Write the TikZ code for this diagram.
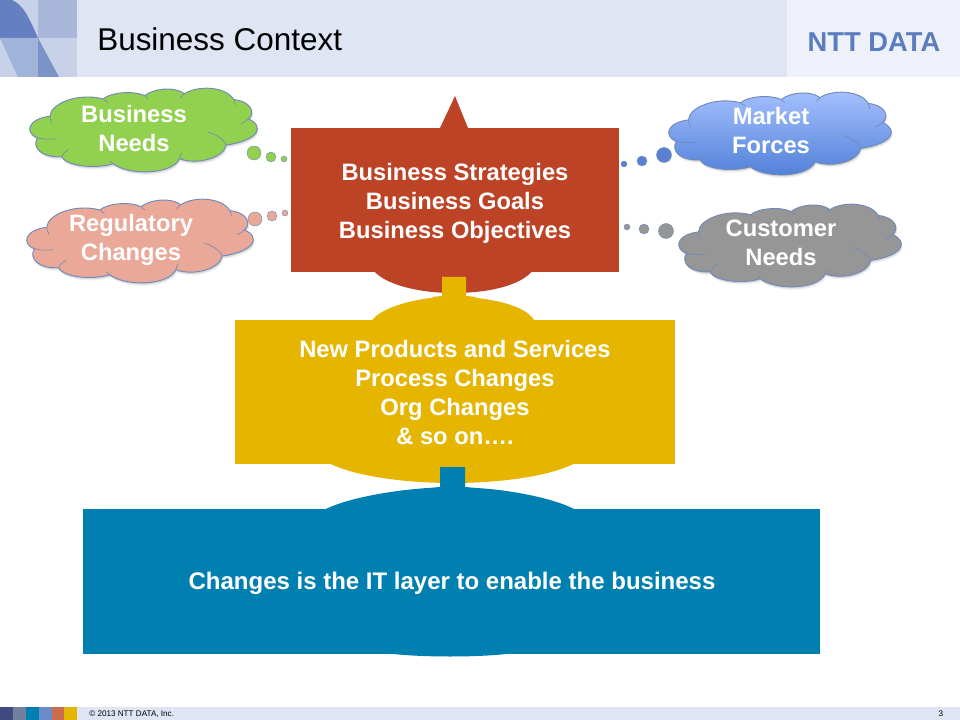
\documentclass[tikz,border=0pt]{standalone}
\usepackage{fontspec}
\setmainfont{Liberation Sans}
\definecolor{hdr}{HTML}{DFE5F2}
\definecolor{hdrlight}{HTML}{EEF1FA}
\definecolor{redbox}{HTML}{BC4325}
\definecolor{yelbox}{HTML}{E5B500}
\definecolor{blubox}{HTML}{007FB1}
\definecolor{cloudline}{HTML}{7089B8}
\definecolor{logoblue}{HTML}{5B7DBE}
\definecolor{decoA}{HTML}{C7D2E9}
\definecolor{decoB}{HTML}{A9B8DA}
\definecolor{decoC}{HTML}{6480C0}
\definecolor{decoD}{HTML}{A0B3D9}
\definecolor{decoE}{HTML}{7A94C8}
\definecolor{cgreen}{HTML}{92D050}
\definecolor{cpink}{HTML}{E9A898}
\definecolor{cgray}{HTML}{969696}
\definecolor{cbluetop}{HTML}{A6C1FF}
\definecolor{cbluebot}{HTML}{4F7FD8}
\definecolor{cbluedot}{HTML}{5A80D0}
\definecolor{footA}{HTML}{3F4A80}
\definecolor{footB}{HTML}{737F9F}
\definecolor{footC}{HTML}{6A8CC8}
\definecolor{footD}{HTML}{CC6B50}
\newcommand\cloudoutline{(75,100) .. controls (76,62) and (160,28) .. (235,48)
  .. controls (258,28) and (325,22) .. (360,38)
  .. controls (385,18) and (445,8) .. (480,32)
  .. controls (520,6) and (605,10) .. (628,50)
  .. controls (680,55) and (695,90) .. (672,108)
  .. controls (722,130) and (705,172) .. (605,187)
  .. controls (598,225) and (520,248) .. (465,228)
  .. controls (440,278) and (310,278) .. (265,243)
  .. controls (210,260) and (125,250) .. (110,222)
  .. controls (52,225) and (18,195) .. (38,165)
  .. controls (-3,150) and (8,108) .. (75,100) -- cycle}
\newcommand\cloudshape[5]{%
  \begin{scope}[shift={(#1,#2)},xscale={#3/683},yscale={#4/256},shift={(-15,-12)}]
    \path[fill=black,opacity=.06,shift={(4,9)}] \cloudoutline;
    \path[fill=black,opacity=.11,shift={(2,5)}] \cloudoutline;
    \path[draw=cloudline,line width=.7pt,#5] \cloudoutline;
    \draw[cloudline,line width=.45pt]
      (95,168) .. controls (75,170) and (55,170) .. (38,165)
      (110,222) .. controls (115,212) and (122,205) .. (132,200)
      (550,148) .. controls (575,155) and (600,170) .. (605,187)
      (650,122) .. controls (660,118) and (668,113) .. (672,108)
      (75,100) .. controls (75,108) and (78,116) .. (82,122)
      (235,48) .. controls (239,52) and (245,56) .. (250,58)
      (360,38) .. controls (363,42) and (367,46) .. (372,48)
      (480,32) .. controls (476,36) and (471,40) .. (467,44)
      (628,50) .. controls (630,55) and (632,60) .. (633,66)
      (465,228) .. controls (466,222) and (468,216) .. (471,211)
      (265,243) .. controls (262,240) and (258,237) .. (255,235);
  \end{scope}}
\tikzset{
  bigtext/.style={font=\fontsize{17.8}{21.75}\selectfont\bfseries,text=white,align=center,inner sep=0pt},
  smalltext/.style={font=\fontsize{6.1}{7}\selectfont,text=black,inner sep=0pt},
  dotg/.style={fill=#1,draw=cloudline,line width=.3pt}
}
\begin{document}
\begin{tikzpicture}[x=0.75pt,y=-0.75pt]
\useasboundingbox (0,0) rectangle (960,720);
\fill[white] (0,0) rectangle (960,720);
% header
\fill[hdr] (0,0) rectangle (787,77);
\fill[hdrlight] (787,0) rectangle (960,77);
\fill[decoA] (0,0) rectangle (77,77);
\fill[decoB] (38,0) rectangle (77,38);
\fill[decoC] (0,0) -- (12,0) .. controls (24,5) and (30,20) .. (38,38) -- (0,38) -- cycle;
\fill[decoD] (0,38) -- (38,38) -- (38,77) -- (18,77) -- cycle;
\fill[decoE] (38,38) -- (59,77) -- (38,77) -- cycle;
\node[anchor=west,inner sep=0pt,font=\fontsize{23.6}{28}\selectfont,text=black] (title) at (97,39) {Business Context};
\node[anchor=center,inner sep=0pt,font=\fontsize{20.5}{24}\selectfont\bfseries,text=logoblue] (logo) at (874,42) {NTT DATA};
% footer
\fill[hdr] (0,707) rectangle (960,720);
\fill[footA] (0,707) rectangle (13,720);
\fill[footB] (13,707) rectangle (26,720);
\fill[blubox] (26,707) rectangle (39,720);
\fill[footC] (39,707) rectangle (52,720);
\fill[footD] (52,707) rectangle (64,720);
\fill[yelbox] (64,707) rectangle (77,720);
\node[smalltext,anchor=west] (copy) at (89,714) {© 2013 NTT DATA, Inc.};
\node[smalltext,anchor=center] (pg) at (941,713.5) {3};
% clouds
\cloudshape{30}{87}{227}{85}{fill=cgreen}
\cloudshape{27}{198}{226}{85}{fill=cpink}
\cloudshape{669}{91}{222}{84}{top color=cbluetop,bottom color=cbluebot}
\cloudshape{679}{203}{222}{84}{fill=cgray}
% dots
\fill[dotg=cgreen] (254,153) circle (7);
\fill[dotg=cgreen] (271,157) circle (5);
\fill[dotg=cgreen] (284,159) circle (3);
\fill[dotg=cpink] (255,219) circle (7);
\fill[dotg=cpink] (272,216) circle (5);
\fill[dotg=cpink] (285,213) circle (3);
\fill[dotg=cbluedot] (664,155) circle (7.5);
\fill[dotg=cbluedot] (642,161) circle (5);
\fill[dotg=cbluedot] (624,164) circle (3);
\fill[dotg=cgray] (666,231) circle (7.5);
\fill[dotg=cgray] (644,229) circle (5);
\fill[dotg=cgray] (627,227) circle (3);
% red
\fill[redbox] (440,128) -- (455,96) -- (468,128) -- cycle;
\fill[redbox] (373,270) .. controls (385,285) and (420,293) .. (453,293) .. controls (490,293) and (522,285) .. (533,270) -- cycle;
\fill[redbox] (291,128) rectangle (619,272);
% yellow
\fill[yelbox] (371,322) .. controls (380,306) and (420,299) .. (431,298) -- (477,298) .. controls (495,300) and (528,306) .. (535,322) -- cycle;
\fill[yelbox] (431,297) -- (442,296) -- (442,277) -- (466,277) -- (466,296) -- (477,297) -- (470,300) -- (440,300) -- cycle;
\fill[yelbox] (327,462) .. controls (350,475) and (400,483) .. (452,483) .. controls (505,483) and (555,475) .. (577,462) -- cycle;
\fill[yelbox] (235,320) rectangle (675,464);
% blue
\fill[blubox] (322,511) .. controls (345,498) and (395,490) .. (428,488) -- (477,488) .. controls (510,490) and (555,498) .. (578,511) -- cycle;
\fill[blubox] (428,488) -- (440,487) -- (440,467) -- (465,467) -- (465,487) -- (477,488) -- (470,491) -- (436,491) -- cycle;
\fill[blubox] (380,652) .. controls (410,658) and (490,658) .. (520,652) -- cycle;
\fill[blubox] (83,509) rectangle (820,654);
% texts
\node[bigtext] (needs) at (134,128.5) {Business\\Needs};
\node[bigtext] (reg) at (131,239.5) {Regulatory\\Changes};
\node[bigtext] (market) at (771,130.5) {Market\\Forces};
\node[bigtext] (cust) at (781,242.5) {Customer\\Needs};
\node[bigtext] (strat) at (455,203) {Business Strategies\\Business Goals\\Business Objectives};
\node[bigtext] (prod) at (455,392.5) {New Products and Services\\Process Changes\\Org Changes\\\& so on….};
\node[bigtext,font=\fontsize{18}{21.75}\selectfont\bfseries] (it) at (452,583) {Changes is the IT layer to enable the business};
\end{tikzpicture}
\end{document}
